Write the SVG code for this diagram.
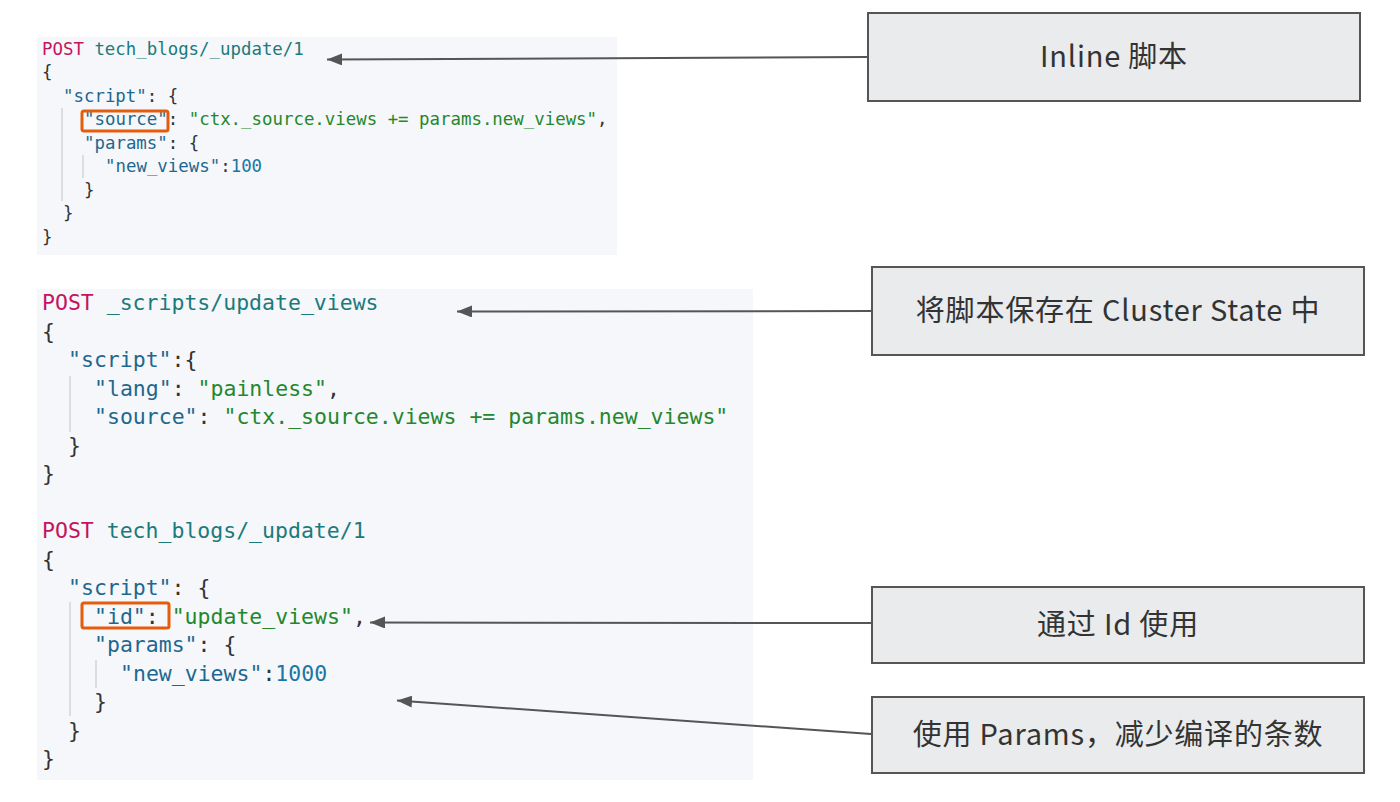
<svg xmlns="http://www.w3.org/2000/svg" width="1400" height="802" viewBox="0 0 1400 802">
  <defs>
    <marker id="ah" markerWidth="16" markerHeight="12" refX="15" refY="6" orient="auto" markerUnits="userSpaceOnUse">
      <path d="M0,0 L15,6 L0,12 Z" fill="#555"/>
    </marker>
  </defs>
  <style>
    .panel { fill: #f5f7fa; }
    .code { font-family: "DejaVu Sans Mono", "Liberation Mono", monospace; fill: #333; }
    .c1 { font-size: 17.4px; }
    .c2 { font-size: 21.5px; }
    .m { fill: #c4155c; }
    .u { fill: #1b7a7c; }
    .k { fill: #1e6890; }
    .s { fill: #24872c; }
    .n { fill: #1c76a3; }
    .guide { stroke: #c9ccd2; stroke-width: 1.2; }
    .hl { fill: none; stroke: #e35d0d; stroke-width: 3; }
    .box { fill: #e9ebec; stroke: #555; stroke-width: 2; }
    .label { font-family: "Noto Sans CJK SC", "Noto Sans", sans-serif; font-size: 29px; letter-spacing: 0.8px; fill: #333; text-anchor: middle; }
    .conn { stroke: #555; stroke-width: 2; fill: none; marker-end: url(#ah); }
  </style>
  <rect width="1400" height="802" fill="#ffffff"/>

  <g id="code-inline">
    <rect class="panel" x="37" y="37" width="580" height="218"/>
    <line class="guide" x1="62" y1="108" x2="62" y2="201"/>
    <line class="guide" x1="83" y1="155" x2="83" y2="178"/>
    <text class="code c1" xml:space="preserve" x="42" y="54.5"><tspan class="m">POST</tspan> <tspan class="u">tech_blogs/_update/1</tspan></text>
    <text class="code c1" x="42" y="78">{</text>
    <text class="code c1" xml:space="preserve" x="63" y="101.5"><tspan class="k">"script"</tspan>: {</text>
    <text class="code c1" xml:space="preserve" x="84" y="125"><tspan class="k">"source"</tspan>: <tspan class="s">"ctx._source.views += params.new_views"</tspan>,</text>
    <text class="code c1" xml:space="preserve" x="84" y="148.5"><tspan class="k">"params"</tspan>: {</text>
    <text class="code c1" xml:space="preserve" x="105" y="172"><tspan class="k">"new_views"</tspan>:<tspan class="n">100</tspan></text>
    <text class="code c1" x="84" y="195.5">}</text>
    <text class="code c1" x="63" y="219">}</text>
    <text class="code c1" x="42" y="242.5">}</text>
    <rect class="hl" x="82" y="111" width="86" height="20" rx="2"/>
  </g>

  <g id="code-stored">
    <rect class="panel" x="37" y="289" width="716" height="491"/>
    <line class="guide" x1="70" y1="376" x2="70" y2="432"/>
    <line class="guide" x1="70" y1="602" x2="70" y2="716"/>
    <line class="guide" x1="96" y1="660" x2="96" y2="688"/>
    <text class="code c2" xml:space="preserve" x="42" y="310"><tspan class="m">POST</tspan> <tspan class="u">_scripts/update_views</tspan></text>
    <text class="code c2" x="42" y="338.5">{</text>
    <text class="code c2" xml:space="preserve" x="68" y="367"><tspan class="k">"script"</tspan>:{</text>
    <text class="code c2" xml:space="preserve" x="94" y="395.5"><tspan class="k">"lang"</tspan>: <tspan class="s">"painless"</tspan>,</text>
    <text class="code c2" xml:space="preserve" x="94" y="424"><tspan class="k">"source"</tspan>: <tspan class="s">"ctx._source.views += params.new_views"</tspan></text>
    <text class="code c2" x="68" y="452.5">}</text>
    <text class="code c2" x="42" y="481">}</text>
    <text class="code c2" xml:space="preserve" x="42" y="538"><tspan class="m">POST</tspan> <tspan class="u">tech_blogs/_update/1</tspan></text>
    <text class="code c2" x="42" y="566.5">{</text>
    <text class="code c2" xml:space="preserve" x="68" y="595"><tspan class="k">"script"</tspan>: {</text>
    <text class="code c2" xml:space="preserve" x="94" y="623.5"><tspan class="k">"id"</tspan>: <tspan class="s">"update_views"</tspan>,</text>
    <text class="code c2" xml:space="preserve" x="94" y="652"><tspan class="k">"params"</tspan>: {</text>
    <text class="code c2" xml:space="preserve" x="120" y="680.5"><tspan class="k">"new_views"</tspan>:<tspan class="n">1000</tspan></text>
    <text class="code c2" x="94" y="709">}</text>
    <text class="code c2" x="68" y="737.5">}</text>
    <text class="code c2" x="42" y="766">}</text>
    <rect class="hl" x="82" y="603" width="87" height="25" rx="2"/>
  </g>

  <g id="note-inline">
    <rect class="box" x="868" y="13" width="492" height="88"/>
    <text class="label" x="1114" y="67">Inline 脚本</text>
  </g>
  <g id="note-cluster-state">
    <rect class="box" x="872" y="267" width="492" height="88"/>
    <text class="label" x="1118" y="321">将脚本保存在 Cluster State 中</text>
  </g>
  <g id="note-id">
    <rect class="box" x="872" y="587" width="492" height="76"/>
    <text class="label" x="1118" y="635">通过 Id 使用</text>
  </g>
  <g id="note-params">
    <rect class="box" x="872" y="697" width="492" height="76"/>
    <text class="label" x="1118" y="745">使用 Params，减少编译的条数</text>
  </g>

  <g id="connectors">
    <line class="conn" x1="867" y1="57" x2="327" y2="59.5"/>
    <line class="conn" x1="871" y1="311" x2="457" y2="311.5"/>
    <line class="conn" x1="871" y1="623" x2="370" y2="622.5"/>
    <line class="conn" x1="871" y1="734" x2="397" y2="700.5"/>
  </g>
</svg>
